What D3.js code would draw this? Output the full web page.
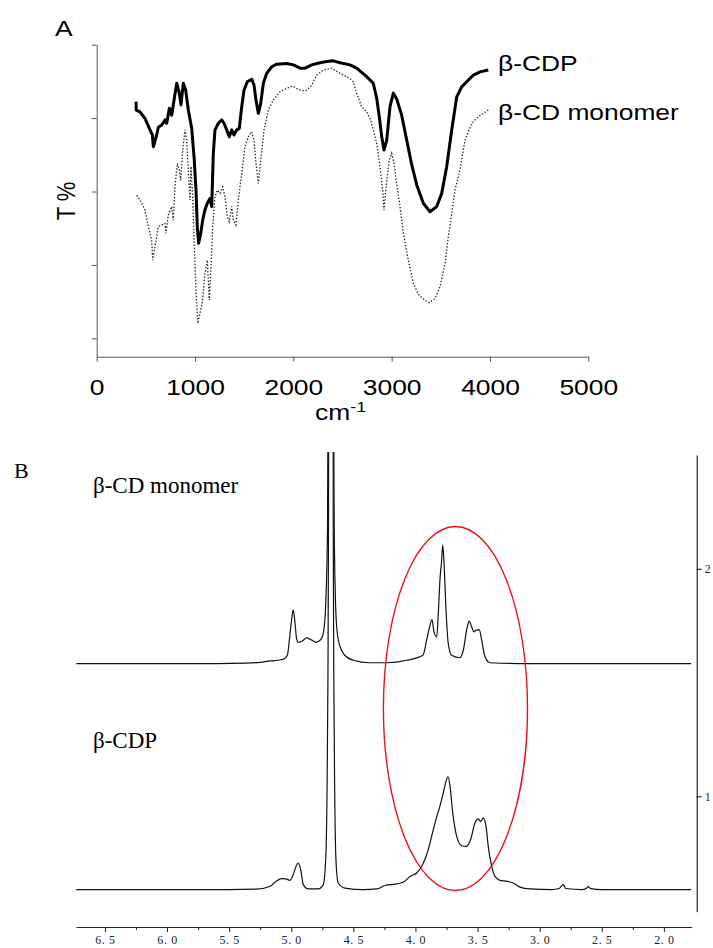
<!DOCTYPE html>
<html>
<head>
<meta charset="utf-8">
<script src="https://cdnjs.cloudflare.com/ajax/libs/d3/7.8.5/d3.min.js"></script>
<style>
  body { margin: 0; background: #fff; }
  svg { display: block; }
</style>
</head>
<body>
<svg id="chart" width="713" height="948"></svg>
<script>
// Panel A: FT-IR, wavenumber (cm-1) vs transmittance (arbitrary T %)
var irTicks = [0, 1000, 2000, 3000, 4000, 5000];
var transTicks = [20, 40, 60, 80, 100];

var cdpIR = [
  [400, 84.5], [402, 82.2], [440, 81.7], [491, 79.9], [542, 76.8], [566, 75.4], [576, 72.2],
  [610, 75.4], [627, 77.5], [661, 78.1], [695, 79.5], [712, 78.6], [739, 82.7], [763, 80.8],
  [779, 83.6], [814, 89.5], [840, 86.8], [857, 83.6], [881, 89.5], [905, 87.6], [932, 82.2],
  [966, 77.2], [990, 69.5], [1010, 60.4], [1023, 50.4], [1037, 45.9], [1058, 48.6], [1078, 52.2],
  [1101, 55.0], [1125, 56.8], [1152, 58.1], [1170, 55.9], [1186, 70.4], [1203, 76.8], [1237, 78.6],
  [1271, 79.5], [1295, 78.6], [1322, 76.8], [1349, 74.9], [1373, 76.8], [1396, 75.4], [1424, 76.8],
  [1450, 77.2], [1475, 83.1], [1498, 87.6], [1532, 89.9], [1577, 90.6], [1600, 89.0], [1620, 84.9],
  [1644, 81.3], [1668, 84.0], [1695, 89.5], [1729, 92.2], [1780, 94.0], [1831, 94.7], [1932, 94.9],
  [2000, 94.5], [2068, 93.6], [2119, 93.6], [2187, 94.5], [2271, 95.1], [2339, 95.4], [2407, 95.6],
  [2475, 95.1], [2576, 94.5], [2644, 93.6], [2746, 91.3], [2813, 89.5], [2848, 85.4], [2874, 80.4],
  [2899, 74.9], [2922, 71.3], [2950, 74.0], [2983, 83.1], [3017, 86.8], [3051, 85.2], [3102, 80.8],
  [3153, 74.0], [3204, 67.3], [3255, 61.8], [3322, 56.8], [3390, 54.5], [3458, 55.9], [3509, 59.5],
  [3560, 66.8], [3611, 76.8], [3662, 85.8], [3712, 88.5], [3763, 89.9], [3831, 91.7], [3899, 92.6],
  [3983, 93.1]
];

var monomerIR = [
  [407, 59.0], [440, 57.7], [458, 56.8], [491, 55.0], [525, 50.4], [542, 48.6], [559, 46.8],
  [570, 41.3], [593, 45.0], [610, 47.7], [627, 50.4], [661, 50.9], [695, 51.3], [705, 48.6],
  [728, 53.6], [763, 55.9], [779, 52.2], [796, 61.3], [820, 67.7], [840, 65.9], [854, 63.1],
  [875, 71.3], [898, 76.8], [915, 74.0], [932, 65.9], [949, 57.7], [959, 66.8], [976, 58.6],
  [990, 46.8], [1010, 33.2], [1027, 24.1], [1051, 26.8], [1078, 30.4], [1101, 37.7], [1125, 41.3],
  [1145, 30.4], [1159, 37.7], [1180, 50.4], [1203, 58.6], [1227, 60.4], [1254, 59.5], [1282, 61.3],
  [1305, 58.6], [1328, 53.1], [1349, 51.8], [1373, 55.9], [1390, 52.2], [1417, 50.9], [1441, 57.7],
  [1475, 65.0], [1508, 72.2], [1542, 74.9], [1577, 76.3], [1600, 74.0], [1620, 67.7], [1644, 62.2],
  [1668, 68.6], [1702, 76.8], [1745, 82.2], [1796, 84.9], [1864, 87.2], [1932, 88.1], [1993, 88.7],
  [2034, 88.1], [2085, 87.5], [2136, 87.6], [2187, 89.0], [2238, 91.7], [2305, 93.1], [2390, 93.6],
  [2475, 92.2], [2576, 90.8], [2610, 89.9], [2644, 86.8], [2695, 83.1], [2746, 81.7], [2780, 79.9],
  [2813, 76.8], [2848, 73.1], [2881, 66.8], [2909, 60.4], [2922, 55.0], [2950, 63.1], [2976, 68.6],
  [3000, 70.4], [3024, 67.7], [3051, 62.2], [3085, 55.9], [3119, 48.6], [3169, 41.3], [3220, 35.0],
  [3271, 32.0], [3339, 30.4], [3383, 29.7], [3441, 30.9], [3492, 34.1], [3543, 40.4], [3576, 47.7],
  [3611, 54.1], [3644, 60.4], [3695, 65.9], [3746, 74.0], [3814, 78.6], [3881, 80.4], [3983, 82.2]
];

// Panel B: 1H NMR, chemical shift (ppm) vs intensity, spectra stacked with offsets
var ppmTicks = [6.5, 6.0, 5.5, 5.0, 4.5, 4.0, 3.5, 3.0, 2.5, 2.0];
var ppmMinorTicks = [6.25, 5.75, 5.25, 4.75, 4.25, 3.75, 3.25, 2.75, 2.25];
var intensityTicks = [1, 2];
var monomerOffset = 1.583;
var cdpOffset = 0.590;

var monomerNMR = [
  [6.73, 0], [5.60, 0], [5.36, 0.002], [5.25, 0.006], [5.17, 0.012], [5.09, 0.016], [5.05, 0.024],
  [5.03, 0.04], [5.016, 0.10], [5.00, 0.18], [4.984, 0.236], [4.970, 0.18], [4.957, 0.11],
  [4.944, 0.094], [4.91, 0.100], [4.876, 0.113], [4.84, 0.105], [4.80, 0.094], [4.755, 0.112],
  [4.735, 0.16], [4.72, 0.30], [4.708, 0.6], [4.701, 1.5], [4.697, 3.0], [4.665, 3.0],
  [4.661, 1.5], [4.654, 0.6], [4.645, 0.30], [4.634, 0.16], [4.61, 0.08], [4.57, 0.037],
  [4.50, 0.015], [4.37, 0.004], [4.23, 0.004], [4.07, 0.015], [3.94, 0.037], [3.91, 0.103],
  [3.889, 0.155], [3.867, 0.194], [3.851, 0.14], [3.829, 0.118], [3.816, 0.221], [3.803, 0.367],
  [3.789, 0.455], [3.781, 0.521], [3.771, 0.455], [3.754, 0.235], [3.736, 0.089], [3.709, 0.037],
  [3.642, 0.026], [3.615, 0.059], [3.583, 0.162], [3.567, 0.187], [3.548, 0.162], [3.529, 0.14],
  [3.513, 0.147], [3.499, 0.147], [3.486, 0.150], [3.467, 0.103], [3.44, 0.03], [3.40, 0.004],
  [3.08, 0], [1.78, 0]
];

var cdpNMR = [
  [6.73, 0], [5.50, 0], [5.28, 0.002], [5.17, 0.015], [5.12, 0.037], [5.078, 0.048], [5.043, 0.047],
  [5.011, 0.041], [4.984, 0.066], [4.962, 0.102], [4.944, 0.117], [4.924, 0.088], [4.903, 0.022],
  [4.863, 0.003], [4.783, 0.003], [4.742, 0.022], [4.723, 0.13], [4.712, 0.42], [4.705, 0.9],
  [4.700, 1.6], [4.697, 3.0], [4.665, 3.0], [4.662, 1.6], [4.657, 0.9], [4.650, 0.42],
  [4.640, 0.13], [4.622, 0.029], [4.568, 0.007], [4.42, 0], [4.31, 0.003], [4.246, 0.018],
  [4.151, 0.025], [4.085, 0.037], [4.044, 0.058], [3.99, 0.073], [3.942, 0.110], [3.897, 0.176],
  [3.87, 0.234], [3.835, 0.308], [3.803, 0.367], [3.776, 0.425], [3.754, 0.476], [3.738, 0.496],
  [3.722, 0.455], [3.70, 0.337], [3.668, 0.234], [3.628, 0.193], [3.588, 0.190], [3.556, 0.220],
  [3.521, 0.293], [3.494, 0.311], [3.475, 0.300], [3.454, 0.315], [3.432, 0.279], [3.414, 0.19],
  [3.386, 0.102], [3.36, 0.058], [3.32, 0.041], [3.266, 0.037], [3.213, 0.029], [3.159, 0.011],
  [3.078, 0.003], [2.90, 0], [2.84, 0.006], [2.81, 0.022], [2.79, 0.005], [2.66, 0],
  [2.625, 0.005], [2.61, 0.013], [2.59, 0.004], [2.50, 0], [1.78, 0]
];

// ellipse around the 3.4-4.0 ppm region: centre and radii in data units
var highlightCentre = [3.678, 1.386];
var highlightRadii = [0.58, 0.80];

const sans = '"Liberation Sans", Arial, sans-serif';
const serif = '"Liberation Serif", "Times New Roman", serif';
const svg = d3.select('#chart');

// ---------- panel A ----------
const xA = d3.scaleLinear().domain([0, 5000]).range([96.7, 588.3]);
const yA = d3.scaleLinear().domain([15, 100]).range([356.7, 44.7]);
const gA = svg.append('g');

// the original figure is stretched horizontally, so text is scaled 1.2 in x
function wideText(g, x, y, str, size) {
    return g.append('text')
        .attr('transform', 'translate(' + x + ',' + y + ') scale(1.2,1)')
        .attr('font-family', sans)
        .attr('font-size', size)
        .attr('fill', '#000')
        .text(str);
}

gA.append('g')
    .attr('transform', 'translate(0,' + yA.range()[0] + ')')
    .attr('color', '#555')
    .call(d3.axisBottom(xA).tickValues(irTicks).tickSize(5).tickSizeOuter(0)
        .tickFormat(d3.format('d')))
    .call(function(g) {
        g.selectAll('text')
            .attr('y', 38.3)
            .attr('dy', 0)
            .attr('fill', '#000')
            .attr('font-size', 22)
            .attr('font-family', sans)
            .attr('transform', 'scale(1.2,1)');
    });

gA.append('g')
    .attr('transform', 'translate(' + xA.range()[0] + ',0)')
    .attr('color', '#555')
    .call(d3.axisLeft(yA).tickValues(transTicks).tickSize(5).tickSizeOuter(0).tickFormat(''));

const irLine = d3.line()
    .x(function(d) { return xA(d[0]); })
    .y(function(d) { return yA(d[1]); });

gA.append('path')
    .datum(monomerIR)
    .attr('d', irLine)
    .attr('fill', 'none')
    .attr('stroke', '#222')
    .attr('stroke-width', 1.3)
    .attr('stroke-dasharray', '1.4,1.8');

gA.append('path')
    .datum(cdpIR)
    .attr('d', irLine)
    .attr('fill', 'none')
    .attr('stroke', '#000')
    .attr('stroke-width', 3)
    .attr('stroke-linejoin', 'round');

wideText(gA, 498, 71, 'β-CDP', 22);
wideText(gA, 498, 120, 'β-CD monomer', 22);
wideText(gA, 55, 36, 'A', 22);

const cm = wideText(gA, 315, 420, 'cm', 22);
cm.append('tspan').attr('font-size', 15).attr('dy', -8).text('-1');

gA.append('text')
    .attr('transform', 'translate(75,201) scale(1.2,1) rotate(-90)')
    .attr('text-anchor', 'middle')
    .attr('font-family', sans)
    .attr('font-size', 22)
    .text('T %');

// ---------- panel B ----------
const xB = d3.scaleLinear().domain([6.733, 1.776]).range([76, 691.7]);
const yB = d3.scaleLinear().domain([0.493, 2.5]).range([911.7, 455]);
const gB = svg.append('g');
const axisY = 927;

function ppmLabel(v) {
    return d3.format('.1f')(v).replace('.', '. ');
}

gB.append('g')
    .attr('transform', 'translate(0,' + axisY + ')')
    .call(d3.axisBottom(xB).tickValues(ppmTicks).tickSize(5).tickSizeOuter(0).tickFormat(ppmLabel))
    .call(function(g) {
        g.select('.domain').attr('stroke', '#222');
        g.selectAll('.tick line').attr('stroke', '#222');
        g.selectAll('text')
            .attr('y', 17)
            .attr('dy', 0)
            .attr('font-size', 12)
            .attr('font-family', serif)
            .attr('letter-spacing', 0.6)
            .attr('fill', '#222');
    });

gB.append('g')
    .attr('transform', 'translate(0,' + axisY + ')')
    .call(d3.axisBottom(xB).tickValues(ppmMinorTicks).tickSize(3).tickSizeOuter(0).tickFormat(''))
    .call(function(g) {
        g.select('.domain').remove();
        g.selectAll('.tick line').attr('stroke', '#222');
    });

gB.append('g')
    .attr('transform', 'translate(696.7,0)')
    .call(d3.axisRight(yB).tickValues(intensityTicks).tickSize(5).tickSizeOuter(0)
        .tickFormat(d3.format('d')))
    .call(function(g) {
        g.selectAll('text')
            .attr('x', 8)
            .attr('font-size', 12)
            .attr('font-family', serif)
            .attr('fill', '#222');
    });

svg.append('defs').append('clipPath')
    .attr('id', 'nmr-clip')
    .append('rect')
    .attr('x', xB.range()[0])
    .attr('y', yB.range()[1] - 3)
    .attr('width', xB.range()[1] - xB.range()[0])
    .attr('height', axisY - yB.range()[1]);

function nmrLine(offset) {
    return d3.line()
        .x(function(d) { return xB(d[0]); })
        .y(function(d) { return yB(d[1] + offset); })
        .curve(d3.curveMonotoneX);
}

const spectra = gB.append('g').attr('clip-path', 'url(#nmr-clip)');
spectra.append('path')
    .datum(monomerNMR)
    .attr('d', nmrLine(monomerOffset))
    .attr('fill', 'none')
    .attr('stroke', '#111')
    .attr('stroke-width', 1.2);

spectra.append('path')
    .datum(cdpNMR)
    .attr('d', nmrLine(cdpOffset))
    .attr('fill', 'none')
    .attr('stroke', '#111')
    .attr('stroke-width', 1.2);

const pxPerPpm = Math.abs(xB(0) - xB(1));
const pxPerUnit = Math.abs(yB(0) - yB(1));
gB.append('ellipse')
    .attr('cx', xB(highlightCentre[0]))
    .attr('cy', yB(highlightCentre[1]))
    .attr('rx', highlightRadii[0] * pxPerPpm)
    .attr('ry', highlightRadii[1] * pxPerUnit)
    .attr('fill', 'none')
    .attr('stroke', '#e8141a')
    .attr('stroke-width', 1.4);

gB.append('text')
    .attr('x', 14).attr('y', 478)
    .attr('font-family', serif).attr('font-size', 22)
    .text('B');
gB.append('text')
    .attr('x', 93).attr('y', 493)
    .attr('font-family', serif).attr('font-size', 23)
    .text('β-CD monomer');
gB.append('text')
    .attr('x', 93).attr('y', 748)
    .attr('font-family', serif).attr('font-size', 23)
    .text('β-CDP');
</script>
</body>
</html>
